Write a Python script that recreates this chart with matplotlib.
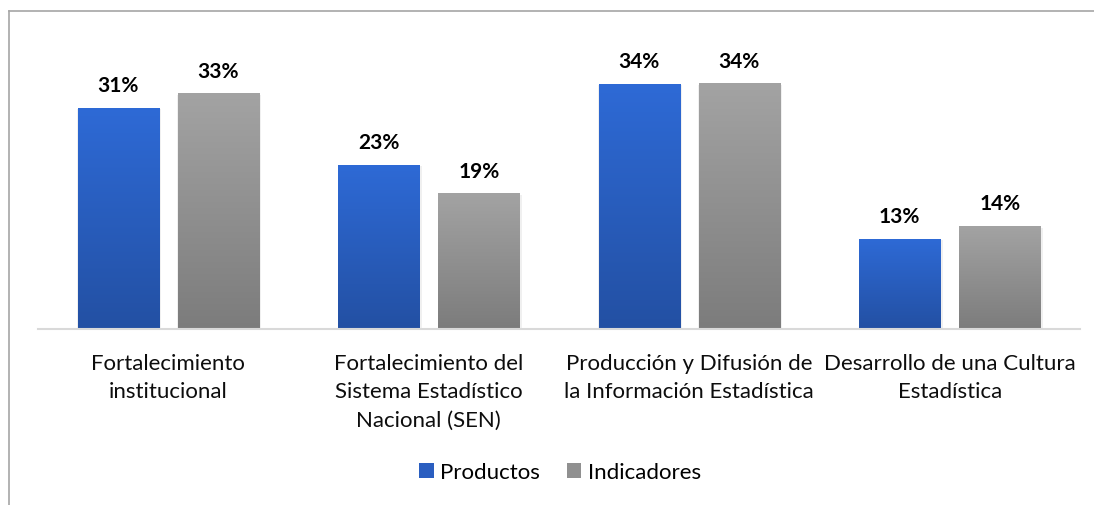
import numpy as np
import matplotlib.pyplot as plt
from matplotlib.lines import Line2D
from matplotlib.patches import Patch
from matplotlib.colors import LinearSegmentedColormap

# === Data ===
categorias = ["Fortalecimiento\ninstitucional",
              "Fortalecimiento del\nSistema Estadístico\nNacional (SEN)",
              "Producción y Difusión de\nla Información Estadística",
              "Desarrollo de una Cultura\nEstadística"]
series = ["Productos", "Indicadores"]
productos = [0.31, 0.23, 0.343, 0.126]
indicadores = [0.33, 0.19, 0.344, 0.144]

plt.rcParams['font.family'] = ['Lato', 'DejaVu Sans']

# gradient colours (top, bottom)
grad_colors = {"Productos": ("#2E6AD6", "#2350A3"),
               "Indicadores": ("#A3A3A3", "#7C7C7C")}

W, H = 1094, 506
fig = plt.figure(figsize=(W / 100, H / 100), dpi=100)
ax = fig.add_axes([38 / W, 1 - 330 / H, (1080 - 38) / W, 300 / H])

x = np.arange(len(categorias))
width = 0.311
offset = 0.192

for vals, name, sign in [(productos, "Productos", -1), (indicadores, "Indicadores", 1)]:
    top, bot = grad_colors[name]
    cmap = LinearSegmentedColormap.from_list(name, [bot, top])
    bars = ax.bar(x + sign * offset, vals, width, facecolor="none", edgecolor="none", zorder=2)
    for b, v in zip(bars, vals):
        x0, w_, h_ = b.get_x(), b.get_width(), b.get_height()
        # soft shadow
        ax.bar(x0 + w_ / 2 + 0.004, h_, w_ + 0.012, bottom=-0.002, color="#000000",
               alpha=0.06, zorder=1, linewidth=0)
        grad = np.linspace(0, 1, 256).reshape(-1, 1)
        im = ax.imshow(grad, extent=[x0, x0 + w_, 0, h_], origin="lower",
                       cmap=cmap, aspect="auto", zorder=2)
        im.set_clip_path(b)
        ax.annotate(f"{v:.0%}", (x0 + w_ / 2, h_), xytext=(0, 12),
                    textcoords="offset points", ha="center", va="baseline",
                    fontsize=15, fontweight="bold", color="#000000")

ax.set_xlim(-0.5, len(categorias) - 0.5)
ax.set_ylim(0, 0.42)
ax.set_xticks(x)
ax.set_xticklabels(categorias, fontsize=16, linespacing=1.53, color="#0D0D0D")
ax.tick_params(axis="x", length=0, pad=17)
ax.set_yticks([])
for s in ["top", "right", "left"]:
    ax.spines[s].set_visible(False)
ax.spines["bottom"].set_color("#D9D9D9")
ax.spines["bottom"].set_linewidth(1.5)
ax.spines["bottom"].set_zorder(3)

handles = [Patch(facecolor="#2A5EC0", edgecolor="none"),
           Patch(facecolor="#909090", edgecolor="none")]
fig.legend(handles, series, loc="center", bbox_to_anchor=(560 / W, 1 - 473 / H),
           ncol=2, frameon=False, fontsize=16, handlelength=0.65, handleheight=0.65,
           handletextpad=0.3, columnspacing=1.2)

# chart border (top and left)
fig.add_artist(Line2D([9 / W, 1], [1 - 12 / H, 1 - 12 / H], transform=fig.transFigure,
                      color="#A6A6A6", lw=1.2))
fig.add_artist(Line2D([9 / W, 9 / W], [0, 1 - 12 / H], transform=fig.transFigure,
                      color="#A6A6A6", lw=1.2))

fig.savefig("out.png", dpi=100)
